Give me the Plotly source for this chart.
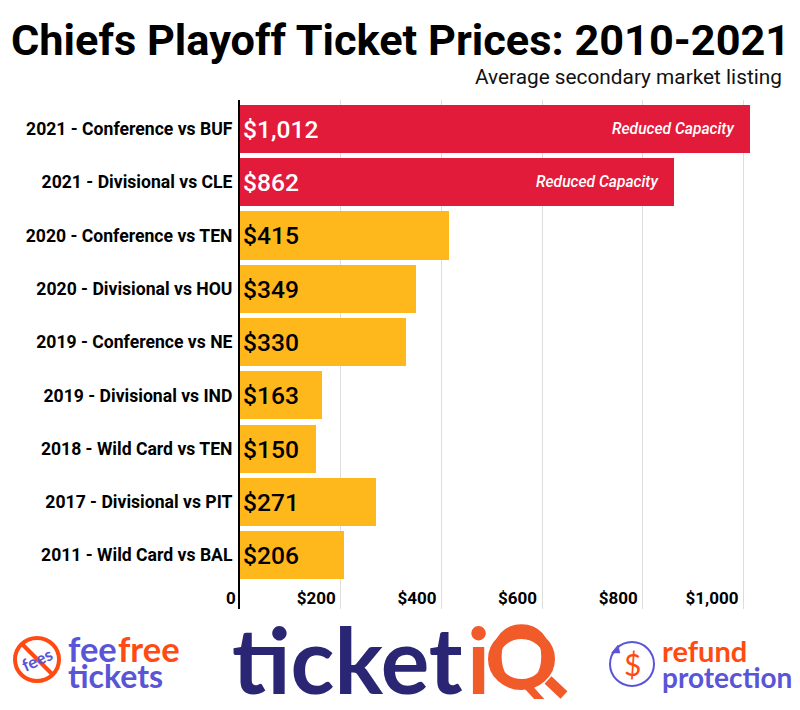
import plotly.graph_objects as go

categories = ["2021 - Conference vs BUF", "2021 - Divisional vs CLE", "2020 - Conference vs TEN",
              "2020 - Divisional vs HOU", "2019 - Conference vs NE", "2019 - Divisional vs IND",
              "2018 - Wild Card vs TEN", "2017 - Divisional vs PIT", "2011 - Wild Card vs BAL"]
prices = [1012, 862, 415, 349, 330, 163, 150, 271, 206]
reduced = [True, True, False, False, False, False, False, False, False]
tick_values = [200, 400, 600, 800, 1000]
tick_labels = ["$200", "$400", "$600", "$800", "$1,000"]

RED, YELLOW = "#e31b3a", "#ffb81c"
NAVY, ORANGE, PURPLE, FLAME = "#2b2673", "#f15a29", "#5a55d6", "#ff4a12"
W, H = 800, 710
L, R, T, B = 240, 770, 100, 609


def px(x):
    return (x - L) / (R - L)


def py(y):
    return (B - y) / (B - T)


fig = go.Figure(go.Bar(
    x=prices, y=categories, orientation="h", width=0.905,
    marker=dict(color=[RED if r else YELLOW for r in reduced], line_width=0),
    text=[f"${p:,}" for p in prices], textposition="inside", insidetextanchor="start",
    textangle=0, constraintext="none",
    textfont=dict(family="Roboto", size=24.6, weight=500, color=["white" if r else "black" for r in reduced]),
    cliponaxis=False, hoverinfo="skip",
))

annotations = []
for c, p, r in zip(categories, prices, reduced):
    if r:
        annotations.append(dict(x=p, y=c, xref="x", yref="y", text="<i>Reduced Capacity</i>", showarrow=False,
                                xanchor="right", xshift=-14, yshift=0,
                                font=dict(family="Roboto", size=15.6, weight=500, color="white")))


def txt(x, y, s, size, color, anchor="left", family="Roboto", weight=400, angle=0):
    annotations.append(dict(x=px(x), y=py(y), xref="paper", yref="paper", text=s, showarrow=False,
                            xanchor=anchor, yanchor="middle", textangle=angle,
                            font=dict(family=family, size=size, color=color, weight=weight),
                            borderpad=0, borderwidth=0))


txt(400, 40, "Chiefs Playoff Ticket Prices: 2010-2021", 43.3, "#000000", "center", weight=700)
txt(782, 77, "Average secondary market listing", 20.8, "#111111", "right")
txt(236, 598, "0", 17, "#000000", "right", weight=700)

# footer logos
txt(68, 648, "fee", 34.5, PURPLE, family="Lato", weight=700)
txt(118, 648, "free", 34.5, FLAME, family="Lato", weight=700)
txt(68, 675, "tickets", 32, PURPLE, family="Lato", weight=700)
txt(37, 659, "fees", 17, PURPLE, "center", family="Lato", weight=700, angle=-25)
txt(232, 658, "ticket", 91, NAVY, family="Lato", weight=700)
txt(478, 658, "i", 91, ORANGE, "center", family="Lato", weight=700)
txt(521.5, 658, "Q", 85, ORANGE, "center", family="DejaVu Sans")
txt(662, 650, "refund", 29, FLAME, family="Lato", weight=700)
txt(662, 677, "protection", 28, PURPLE, family="Lato", weight=700)
txt(632, 664, "$", 30, FLAME, "center", family="Lato")


def circle(x0, y0, x1, y1, color, width):
    return dict(type="circle", xref="paper", yref="paper", x0=px(x0), x1=px(x1), y0=py(y1), y1=py(y0),
                line=dict(color=color, width=width))


def seg(x0, y0, x1, y1, color, width):
    return dict(type="line", xref="paper", yref="paper", x0=px(x0), x1=px(x1), y0=py(y0), y1=py(y1),
                line=dict(color=color, width=width))


def tri(points, color):
    d = "M" + " L".join(f"{px(x):.4f},{py(y):.4f}" for x, y in points) + " Z"
    return dict(type="path", xref="paper", yref="paper", path=d, fillcolor=color, line=dict(color=color, width=0.5))


shapes = [
    circle(15, 638, 59, 681, FLAME, 4),
    seg(22, 644, 53, 675, FLAME, 4),
    circle(493.5, 633.5, 549.5, 684.5, ORANGE, 11),
    seg(548, 680, 564, 695, ORANGE, 10),
    circle(610, 642, 654, 686, PURPLE, 2),
    tri([(611.5, 653), (618, 645), (620, 653)], PURPLE),
]

fig.update_layout(
    width=W, height=H, paper_bgcolor="white", plot_bgcolor="white", showlegend=False,
    margin=dict(l=L, r=W - R, t=T, b=H - B, pad=0),
    annotations=annotations, shapes=shapes, bargap=0,
    font=dict(family="Roboto", color="black"),
    xaxis=dict(range=[0, (R - L) / 0.5035], tickvals=tick_values, ticktext=tick_labels,
               ticklabelposition="inside left", ticklabelstandoff=-4, ticklabelshift=-5,
               showgrid=True, gridcolor="#dddddd", gridwidth=1,
               zeroline=False, showline=False, ticks="",
               tickfont=dict(family="Roboto", size=17, weight=700, color="black")),
    yaxis=dict(type="category", categoryorder="array", categoryarray=categories, range=[9.01, -0.545],
               showgrid=False, zeroline=False, showline=True, linecolor="black", linewidth=2, ticks="",
               ticklabelstandoff=2, tickfont=dict(family="Roboto", size=17.6, weight=700, color="black")),
)

fig.write_html("out.html", config=dict(displayModeBar=False), post_script="document.body.style.margin='0';")
